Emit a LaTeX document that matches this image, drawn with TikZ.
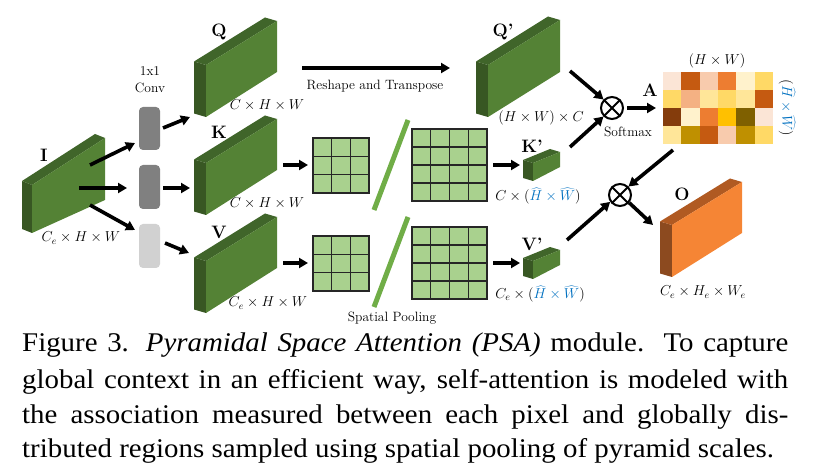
\documentclass[tikz,border=0pt]{standalone}
\usepackage{fontspec}
\newfontfamily\capfont{Liberation Serif}
\usetikzlibrary{calc,arrows.meta}
\definecolor{gfront}{HTML}{548235}
\definecolor{gside}{HTML}{385723}
\definecolor{gtop}{HTML}{40652A}
\definecolor{ofront}{HTML}{F58535}
\definecolor{oside}{HTML}{8C4A1F}
\definecolor{otop}{HTML}{B05A22}
\definecolor{cellg}{HTML}{A9D18E}
\definecolor{slashg}{HTML}{70AD47}
\definecolor{hatblue}{HTML}{0070C0}
\newcommand\slab[6]{%
  \fill[fill=#1side] (#2) -- ($(#2)+(#6)$) -- ($(#5)+(#6)$) -- (#5) -- cycle;
  \fill[fill=#1top] (#2) -- ($(#2)+(#6)$) -- ($(#3)+(#6)$) -- (#3) -- cycle;
  \fill[fill=#1front] (#2) -- (#3) -- (#4) -- (#5) -- cycle;}
\newcommand\hw{\textcolor{hatblue}{\widehat{H}\times\widehat{W}}}
\newcommand\capline[1]{\scalebox{1.07}[1]{\makebox[716pt][s]{#1}}}
\begin{document}
\begin{tikzpicture}[x=1pt,y=-1pt,
  arr/.style={line width=3.6pt,-{Triangle[length=9pt,width=10pt]}},
  lab/.style={font=\fontsize{18}{20}\selectfont\bfseries,inner sep=0},
  dim/.style={font=\fontsize{14}{16}\selectfont,inner sep=0},
  txt/.style={font=\fontsize{13.5}{15}\selectfont,inner sep=0},
  convbox/.style={rounded corners=4pt},
  gridcell/.style={fill=cellg,draw=black!85,line width=1.2pt},
  gridln/.style={draw=black!85,line width=1.2pt},
  slash/.style={draw=slashg,line width=5pt},
  mult/.style={circle,draw,line width=2pt,minimum size=22pt,inner sep=0}]
\useasboundingbox (0,0) rectangle (815,468);
% ---- slabs
\slab{g}{32,185}{105,138}{105,200}{32,233}{-10,-4}
\slab{g}{206,65}{277,21}{277,72}{206,117}{-12,-3.5}
\slab{g}{206,163}{277,119}{277,170}{206,215}{-12,-3.5}
\slab{g}{206,261}{277,217}{277,268}{206,313}{-12,-3.5}
\slab{g}{488,65}{560,20}{560,72}{488,117}{-12,-3.5}
\slab{g}{533,163}{560,152}{560,167}{533,181}{-10,-3}
\slab{g}{533,261}{560,250}{560,265}{533,279}{-10,-3}
\slab{o}{672,225}{742,182}{742,233}{672,277}{-12,-3.5}
% ---- labels
\node[lab] (lI) at (44,155) {I};
\node[lab] (lQ) at (219,32) {Q};
\node[lab] (lK) at (219,132) {K};
\node[lab] (lV) at (219,232) {V};
\node[lab] (lQp) at (503,32) {Q\textquoteright};
\node[lab] (lKp) at (532,146) {K\textquoteright};
\node[lab] (lVp) at (532,244) {V\textquoteright};
\node[lab] (lA) at (650,90) {A};
\node[lab] (lO) at (682,194) {O};
\node[dim] (dI) at (81,238) {$C_e\times H\times W$};
\node[dim] (dQ) at (267,105) {$C\times H\times W$};
\node[dim] (dK) at (267,203) {$C\times H\times W$};
\node[dim] (dV) at (268,303) {$C_e\times H\times W$};
\node[dim] (dQp) at (541,118) {$(H\times W)\times C$};
\node[dim] (dKp) at (538,196) {$C\times(\hw)$};
\node[dim] (dVp) at (540,294) {$C_e\times(\hw)$};
\node[dim] (dAt) at (717,61) {$(H\times W)$};
\node[dim,rotate=-90] (dAr) at (787,108) {$(\hw)$};
\node[dim] (dO) at (703,292) {$C_e\times H_e\times W_e$};
\node[txt] (t1) at (150,71) {1x1};
\node[txt] (t2) at (150,88) {Conv};
\node[txt] (trt) at (375,86) {Reshape and Transpose};
\node[txt] (tsm) at (628,132) {Softmax};
\node[txt] (tsp) at (392,318) {Spatial Pooling};
% ---- conv boxes
\fill[convbox,fill=black!50] (139,107) rectangle (160,150);
\fill[convbox,fill=black!50] (139,165) rectangle (160,209);
\fill[convbox,fill=black!18] (139,224) rectangle (160,268);
% ---- grids
\foreach \y in {138,236}{
  \filldraw[gridcell] (313,\y) rectangle (369,\y+55);
  \foreach \i in {1,2}{
    \draw[gridln] (313+\i*18.67,\y) -- (313+\i*18.67,\y+55);
    \draw[gridln] (313,\y+\i*18.33) -- (369,\y+\i*18.33);}}
\foreach \y in {129,227}{
  \filldraw[gridcell] (412,\y) rectangle (487,\y+72);
  \foreach \i in {1,2,3}{
    \draw[gridln] (412+\i*18.75,\y) -- (412+\i*18.75,\y+72);
    \draw[gridln] (412,\y+\i*18) -- (487,\y+\i*18);}}
\draw[slash] (408,120) -- (374,210);
\draw[slash] (408,217) -- (374,307);
% ---- attention matrix
\foreach \row [count=\r from 0] in {{FBE5D6,C55A11,F8CBAD,ED7D31,FFF2CC,FFD966},{FFD966,F4B183,FFE699,FFD966,FFE699,C55A11},{843C0C,FFF2CC,ED7D31,FFC000,7F6000,FBE5D6},{FFE699,BF9000,C55A11,F8CBAD,BF9000,FFD966}}{
  \foreach \c [count=\k from 0] in \row {
    \definecolor{tmpc}{HTML}{\c}
    \fill[tmpc] (663+\k*18.33,72+\r*18) rectangle (663+\k*18.33+18.5,72+\r*18+18.2);}}
% ---- multiply nodes
\node[mult] (m1) at (612,108) {};
\draw[line width=2pt] (m1.north west) -- (m1.south east) (m1.north east) -- (m1.south west);
\node[mult] (m2) at (620,195) {};
\draw[line width=2pt] (m2.north west) -- (m2.south east) (m2.north east) -- (m2.south west);
% ---- arrows
\coordinate (a1s) at (90,165); \coordinate (a1e) at (135,143);
\coordinate (a2s) at (79,188); \coordinate (a2e) at (127,188);
\coordinate (a3s) at (90,205); \coordinate (a3e) at (135,230);
\coordinate (b1s) at (163,128); \coordinate (b1e) at (190,117);
\coordinate (b2s) at (163,188); \coordinate (b2e) at (190,188);
\coordinate (b3s) at (165,243); \coordinate (b3e) at (189,253);
\coordinate (c1s) at (283,165); \coordinate (c1e) at (308,165);
\coordinate (c2s) at (283,263); \coordinate (c2e) at (308,263);
\coordinate (d1s) at (493,165); \coordinate (d1e) at (520,165);
\coordinate (d2s) at (493,263); \coordinate (d2e) at (520,263);
\coordinate (rs) at (302,68); \coordinate (re) at (450,68);
\coordinate (e1s) at (570,71); \coordinate (e2s) at (570,147);
\coordinate (fe) at (656,108);
\coordinate (gs) at (673,150);
\coordinate (hs) at (567,240);
\coordinate (ie) at (653,225);
\foreach \s/\e in {a1s/a1e,a2s/a2e,a3s/a3e,b1s/b1e,b2s/b2e,b3s/b3e,c1s/c1e,c2s/c2e,d1s/d1e,d2s/d2e,rs/re}
  \draw[arr] (\s) -- (\e);
\draw[arr] (e1s) -- (m1.135);
\draw[arr] (e2s) -- (m1.225);
\draw[arr] (m1.east) ++(3,0) -- (fe);
\draw[arr] (gs) -- (m2.45);
\draw[arr] (hs) -- (m2.215);
\draw[arr] (m2.-40) -- (ie);
% ---- caption
\begin{scope}[every node/.style={anchor=base west,inner sep=0,font=\capfont\fontsize{27}{35}\selectfont}]
\node (cap1) at (22,352) {\capline{Figure 3. \textit{Pyramidal Space Attention (PSA)} module.\ \ To capture}};
\node (cap2) at (22,388) {\capline{global context in an efficient way, self-attention is modeled with}};
\node (cap3) at (22,423) {\capline{the association measured between each pixel and globally dis-}};
\node (cap4) at (22,457) {\scalebox{1.07}[1]{tributed regions sampled using spatial pooling of pyramid scales.}};
\end{scope}
\end{tikzpicture}
\end{document}
